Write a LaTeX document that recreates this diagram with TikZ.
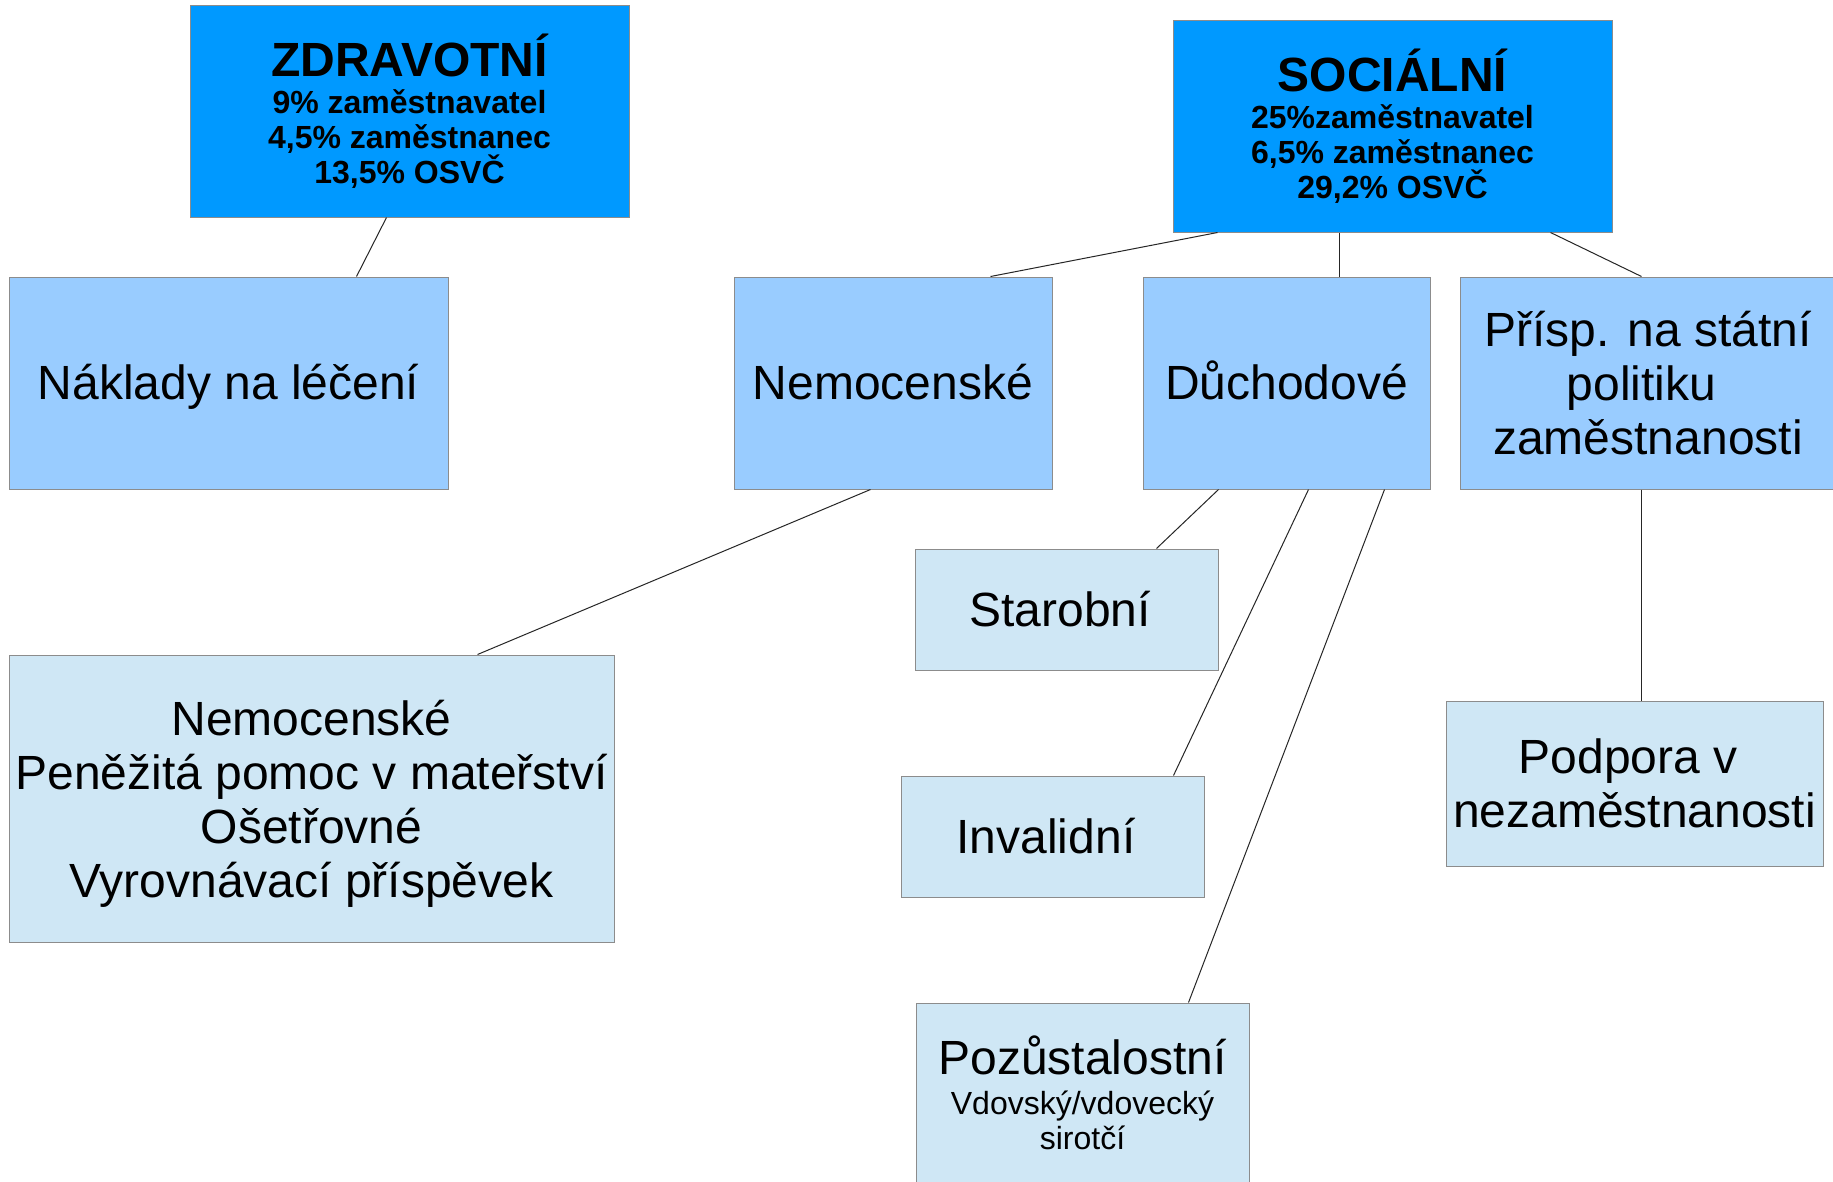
\documentclass[tikz,border=0pt]{standalone}
\usepackage{fontspec}
\setmainfont{Liberation Sans}
\usetikzlibrary{calc}
\definecolor{topblue}{HTML}{0099FF}
\definecolor{midblue}{HTML}{99CCFF}
\definecolor{lowblue}{HTML}{CFE7F5}
\definecolor{edgegrey}{HTML}{8C8C8C}
\tikzset{
  box/.style={draw=edgegrey, line width=1pt, inner sep=0pt, align=center, anchor=center},
  topbox/.style={box, fill=topblue, font=\bfseries\fontsize{32}{35}\selectfont},
  midbox/.style={box, fill=midblue, font=\fontsize{48}{54}\selectfont},
  lowbox/.style={box, fill=lowblue, font=\fontsize{48}{54}\selectfont},
  oneline/.style={text height=43pt, text depth=10pt},
  link/.style={draw=black!85, line width=1pt},
}
\newcommand\myhead[1]{{\fontsize{48}{48}\selectfont #1}}
\newcommand\trail{\kern13pt}
\begin{document}
\begin{tikzpicture}[x=1pt,y=-1pt]
\path[use as bounding box, clip] (0,0) rectangle (1833,1181);
\fill[white] (0,0) rectangle (1833,1181);
% top boxes
\node[topbox, minimum width=439pt, minimum height=212pt] (zdr) at (409.5,111)
  {\myhead{ZDRAVOTNÍ}\\[2pt]9\% zaměstnavatel\\4,5\% zaměstnanec\\13,5\% OSVČ};
\node[topbox, minimum width=439pt, minimum height=212pt] (soc) at (1392.5,126)
  {\myhead{SOCIÁLNÍ}\\[2pt]25\%zaměstnavatel\\6,5\% zaměstnanec\\29,2\% OSVČ};
% middle boxes
\node[midbox, oneline, minimum width=439pt, minimum height=212pt] (nak) at (228.5,383) {Náklady na léčení};
\node[midbox, oneline, minimum width=318pt, minimum height=212pt] (nem) at (893,383) {Nemocenské};
\node[midbox, oneline, minimum width=287pt, minimum height=212pt] (duch) at (1286.5,383) {Důchodové};
\node[midbox, minimum width=376pt, minimum height=212pt] (prisp) at (1648,383)
  {Přísp. na státní\\politiku\trail\\zaměstnanosti};
% lower boxes
\node[lowbox, minimum width=605pt, minimum height=287pt, text depth=0pt] (nembig) at (311.5,798.5)
  {Nemocenské\\Peněžitá pomoc v mateřství\\Ošetřovné\\Vyrovnávací příspěvek};
\node[lowbox, oneline, minimum width=303pt, minimum height=121pt] (star) at (1066.5,609.5) {Starobní\trail};
\node[lowbox, oneline, minimum width=303pt, minimum height=121pt] (inv) at (1052.5,836.5) {Invalidní\trail};
\node[lowbox, minimum width=333pt, minimum height=212pt, text depth=32pt,
  font=\fontsize{32}{35}\selectfont] (poz) at (1082.5,1109)
  {\myhead{Pozůstalostní}\\[5pt]Vdovský/vdovecký\\sirotčí};
\node[lowbox, minimum width=377pt, minimum height=165pt] (pod) at (1634.5,783.5)
  {Podpora v\trail\\nezaměstnanosti};
% connectors
\draw[link] ($(zdr.south west)+(197,0)$) -- ($(nak.north west)+(348,0)$);
\draw[link] ($(soc.south west)+(45,0)$) -- ($(nem.north west)+(257,0)$);
\draw[link] ($(soc.south west)+(167,0)$) -- ($(duch.north west)+(197,0)$);
\draw[link] ($(soc.south west)+(378,0)$) -- ($(prisp.north west)+(182,0)$);
\draw[link] ($(nem.south west)+(137,0)$) -- ($(nembig.north west)+(469,0)$);
\draw[link] ($(duch.south west)+(76,0)$) -- ($(star.north west)+(242,0)$);
\draw[link] ($(duch.south west)+(166,0)$) -- ($(inv.north west)+(273,0)$);
\draw[link] ($(duch.south west)+(242,0)$) -- ($(poz.north west)+(273,0)$);
\draw[link] ($(prisp.south west)+(182,0)$) -- ($(pod.north west)+(196,0)$);
\end{tikzpicture}
\end{document}
